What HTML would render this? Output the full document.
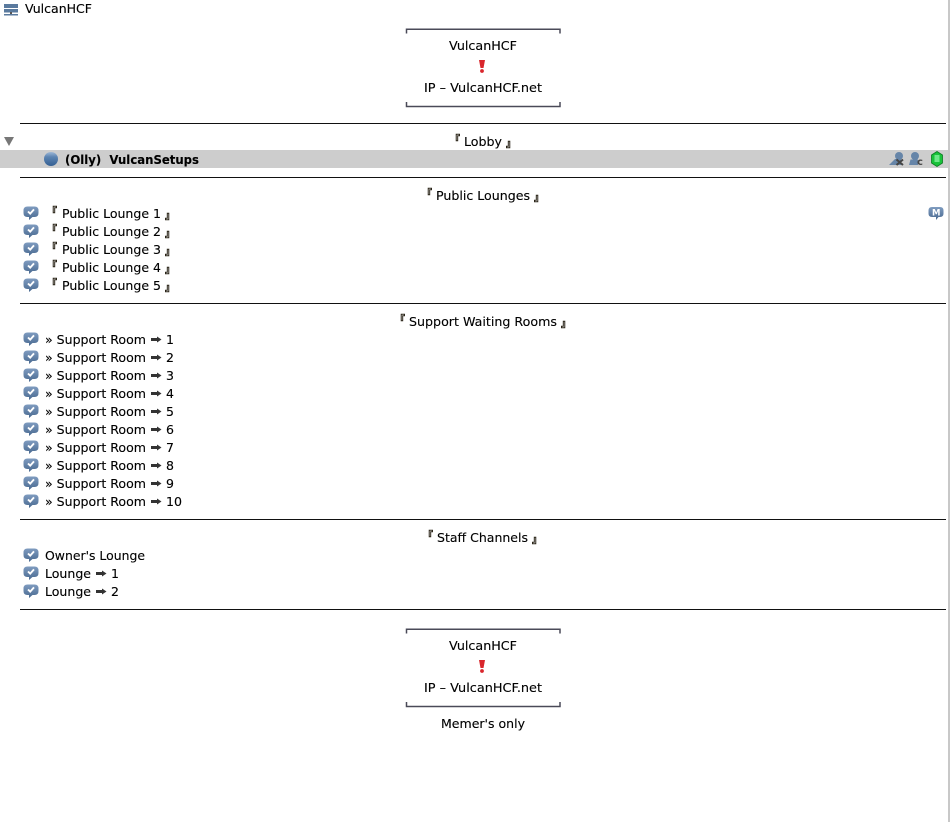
<!DOCTYPE html>
<html><head><meta charset="utf-8"><style>
html,body{margin:0;padding:0;background:#fff;width:950px;height:822px;overflow:hidden}
svg{display:block}
text{font-family:"DejaVu Sans","Liberation Sans",sans-serif;font-size:12.5px;fill:#000;stroke:#000;stroke-width:.12px}
.c{font-family:"Noto Sans CJK JP",sans-serif;font-size:10px;font-weight:700;fill:#2a2418;stroke:#2a2418;stroke-width:.55px}
.b{font-weight:700}
</style></head><body>
<svg width="950" height="822" viewBox="0 0 950 822" xmlns="http://www.w3.org/2000/svg">
<defs>
<linearGradient id="bub" x1="0" y1="0" x2="0" y2="1"><stop offset="0" stop-color="#7f9cc0"/><stop offset="1" stop-color="#48688f"/></linearGradient>
<g id="m"><path d="M4.500 0.500H11.500Q15.500 0.500 15.500 4.500V7Q15.500 11 11.500 11H9.500L6 14V11H4.500Q0.500 11 0.500 7V4.500Q0.500 0.500 4.500 0.500Z" fill="url(#bub)"/><path d="M5 5.500L7.200 7.600L11 3.400" fill="none" stroke="#fff" stroke-width="1.900"/></g>
<g id="fr"><path d="M0.500 5.500V1.200H154V5.500" fill="none" stroke="#4a4a58" stroke-width="1.500"/></g>
<g id="fl"><path d="M0.500 0V4.500H154V0" fill="none" stroke="#4a4a58" stroke-width="1.500"/></g>
<linearGradient id="ball" x1="0" y1="0" x2="0" y2="1"><stop offset="0" stop-color="#9fb8d6"/><stop offset=".35" stop-color="#5c84b2"/><stop offset="1" stop-color="#345f92"/></linearGradient>
</defs>

<rect x="948" y="0" width="2" height="822" fill="#c8c8c8"/>

<!-- header -->
<rect x="4" y="4" width="14" height="4" fill="#5a7a9e"/><rect x="4" y="9" width="14" height="3.500" fill="#5a7a9e"/><rect x="10" y="12" width="2" height="2" fill="#555"/><rect x="4" y="14" width="14" height="1.500" fill="#5a7a9e"/>
<text x="25" y="13" textLength="67" lengthAdjust="spacingAndGlyphs">VulcanHCF</text>

<!-- top box -->
<use href="#fr" x="406" y="28"/>
<text x="449" y="50" textLength="68" lengthAdjust="spacingAndGlyphs">VulcanHCF</text>
<path d="M479 60H485L483.500 68H480.500Z" fill="#d9262c"/><circle cx="482" cy="71" r="1.900" fill="#d9262c"/>
<text x="424" y="92" textLength="118" lengthAdjust="spacingAndGlyphs">IP – VulcanHCF.net</text>
<use href="#fl" x="406" y="102"/>

<rect x="20" y="123" width="926" height="1" fill="#111"/>

<!-- lobby -->
<path d="M4 137H14L9 146Z" fill="#777"/>
<text class="c" x="450" y="143">『</text>
<text x="464" y="146" textLength="38" lengthAdjust="spacingAndGlyphs">Lobby</text>
<text class="c" x="506" y="147">』</text>

<rect x="0" y="150" width="948" height="18" fill="#cdcdcd"/>
<circle cx="51" cy="159" r="7" fill="url(#ball)"/>
<text class="b" x="65" y="164" textLength="134" lengthAdjust="spacingAndGlyphs" xml:space="preserve">(Olly)  VulcanSetups</text>
<!-- right icons -->
<circle cx="899" cy="156" r="4" fill="#6685a8"/><path d="M889 165L895 159H901V165Z" fill="#6685a8"/><path d="M896.500 159.500L903 165M903 159.500L896.500 165" stroke="#444" stroke-width="2"/>
<circle cx="915" cy="156" r="4" fill="#6685a8"/><path d="M909 165L910.500 159.500H918V165Z" fill="#6685a8"/><text x="917" y="165" style="font-size:10px;font-weight:700;fill:#444;stroke:none">c</text>
<path d="M937 151.500L942.500 155V163L937 166.500L931.500 163V155Z" fill="#19c23a" stroke="#0c7a22" stroke-width=".8"/><rect x="934.500" y="155" width="5" height="7" fill="#6fe88a"/>

<rect x="20" y="177" width="926" height="1" fill="#111"/>

<!-- public lounges -->
<text class="c" x="422" y="197">『</text>
<text x="436" y="200" textLength="94" lengthAdjust="spacingAndGlyphs">Public Lounges</text>
<text class="c" x="534" y="201">』</text>

<g>
<use href="#m" x="23" y="206"/><text class="c" x="47" y="215">『</text><text x="62" y="218" textLength="99" lengthAdjust="spacingAndGlyphs">Public Lounge 1</text><text class="c" x="165" y="219">』</text>
<use href="#m" x="23" y="224"/><text class="c" x="47" y="233">『</text><text x="62" y="236" textLength="99" lengthAdjust="spacingAndGlyphs">Public Lounge 2</text><text class="c" x="165" y="237">』</text>
<use href="#m" x="23" y="242"/><text class="c" x="47" y="251">『</text><text x="62" y="254" textLength="99" lengthAdjust="spacingAndGlyphs">Public Lounge 3</text><text class="c" x="165" y="255">』</text>
<use href="#m" x="23" y="260"/><text class="c" x="47" y="269">『</text><text x="62" y="272" textLength="99" lengthAdjust="spacingAndGlyphs">Public Lounge 4</text><text class="c" x="165" y="273">』</text>
<use href="#m" x="23" y="278"/><text class="c" x="47" y="287">『</text><text x="62" y="290" textLength="99" lengthAdjust="spacingAndGlyphs">Public Lounge 5</text><text class="c" x="165" y="291">』</text>
</g>
<path d="M932 207H940Q943.500 207 943.500 210.500V213.500Q943.500 217 940 217H938.500L936 220V217H932Q928.500 217 928.500 213.500V210.500Q928.500 207 932 207Z" fill="url(#bub)"/>
<text x="932" y="215.500" style="font-size:8.500px;font-weight:700;fill:#fff;stroke:none">M</text>

<rect x="20" y="303" width="926" height="1" fill="#111"/>

<!-- support -->
<text class="c" x="395" y="323">『</text>
<text x="409" y="326" textLength="148" lengthAdjust="spacingAndGlyphs">Support Waiting Rooms</text>
<text class="c" x="561" y="327">』</text>

<g>
<use href="#m" x="23" y="332"/><text x="45" y="344" textLength="101" lengthAdjust="spacingAndGlyphs">» Support Room</text><path d="M151 338H157V336.500L161.500 339.500L157 342.500V341H151Z" fill="#333"/><text x="166" y="344">1</text>
<use href="#m" x="23" y="350"/><text x="45" y="362" textLength="101" lengthAdjust="spacingAndGlyphs">» Support Room</text><path d="M151 356H157V354.500L161.500 357.500L157 360.500V359H151Z" fill="#333"/><text x="166" y="362">2</text>
<use href="#m" x="23" y="368"/><text x="45" y="380" textLength="101" lengthAdjust="spacingAndGlyphs">» Support Room</text><path d="M151 374H157V372.500L161.500 375.500L157 378.500V377H151Z" fill="#333"/><text x="166" y="380">3</text>
<use href="#m" x="23" y="386"/><text x="45" y="398" textLength="101" lengthAdjust="spacingAndGlyphs">» Support Room</text><path d="M151 392H157V390.500L161.500 393.500L157 396.500V395H151Z" fill="#333"/><text x="166" y="398">4</text>
<use href="#m" x="23" y="404"/><text x="45" y="416" textLength="101" lengthAdjust="spacingAndGlyphs">» Support Room</text><path d="M151 410H157V408.500L161.500 411.500L157 414.500V413H151Z" fill="#333"/><text x="166" y="416">5</text>
<use href="#m" x="23" y="422"/><text x="45" y="434" textLength="101" lengthAdjust="spacingAndGlyphs">» Support Room</text><path d="M151 428H157V426.500L161.500 429.500L157 432.500V431H151Z" fill="#333"/><text x="166" y="434">6</text>
<use href="#m" x="23" y="440"/><text x="45" y="452" textLength="101" lengthAdjust="spacingAndGlyphs">» Support Room</text><path d="M151 446H157V444.500L161.500 447.500L157 450.500V449H151Z" fill="#333"/><text x="166" y="452">7</text>
<use href="#m" x="23" y="458"/><text x="45" y="470" textLength="101" lengthAdjust="spacingAndGlyphs">» Support Room</text><path d="M151 464H157V462.500L161.500 465.500L157 468.500V467H151Z" fill="#333"/><text x="166" y="470">8</text>
<use href="#m" x="23" y="476"/><text x="45" y="488" textLength="101" lengthAdjust="spacingAndGlyphs">» Support Room</text><path d="M151 482H157V480.500L161.500 483.500L157 486.500V485H151Z" fill="#333"/><text x="166" y="488">9</text>
<use href="#m" x="23" y="494"/><text x="45" y="506" textLength="101" lengthAdjust="spacingAndGlyphs">» Support Room</text><path d="M151 500H157V498.500L161.500 501.500L157 504.500V503H151Z" fill="#333"/><text x="166" y="506" textLength="16" lengthAdjust="spacingAndGlyphs">10</text>
</g>

<rect x="20" y="519" width="926" height="1" fill="#111"/>

<!-- staff -->
<text class="c" x="423" y="539">『</text>
<text x="437" y="542" textLength="91" lengthAdjust="spacingAndGlyphs">Staff Channels</text>
<text class="c" x="532" y="543">』</text>

<use href="#m" x="23" y="548"/><text x="45" y="560" textLength="100" lengthAdjust="spacingAndGlyphs">Owner's Lounge</text>
<use href="#m" x="23" y="566"/><text x="45" y="578" textLength="46" lengthAdjust="spacingAndGlyphs">Lounge</text><path d="M96 572H102V570.500L106.500 573.500L102 576.500V575H96Z" fill="#333"/><text x="111" y="578">1</text>
<use href="#m" x="23" y="584"/><text x="45" y="596" textLength="46" lengthAdjust="spacingAndGlyphs">Lounge</text><path d="M96 590H102V588.500L106.500 591.500L102 594.500V593H96Z" fill="#333"/><text x="111" y="596">2</text>

<rect x="20" y="609" width="926" height="1" fill="#111"/>

<!-- bottom box -->
<use href="#fr" x="406" y="628"/>
<text x="449" y="650" textLength="68" lengthAdjust="spacingAndGlyphs">VulcanHCF</text>
<path d="M479 660H485L483.500 668H480.500Z" fill="#d9262c"/><circle cx="482" cy="671" r="1.900" fill="#d9262c"/>
<text x="424" y="692" textLength="118" lengthAdjust="spacingAndGlyphs">IP – VulcanHCF.net</text>
<use href="#fl" x="406" y="702"/>
<text x="441" y="728" textLength="84" lengthAdjust="spacingAndGlyphs">Memer's only</text>
</svg>
</body></html>
